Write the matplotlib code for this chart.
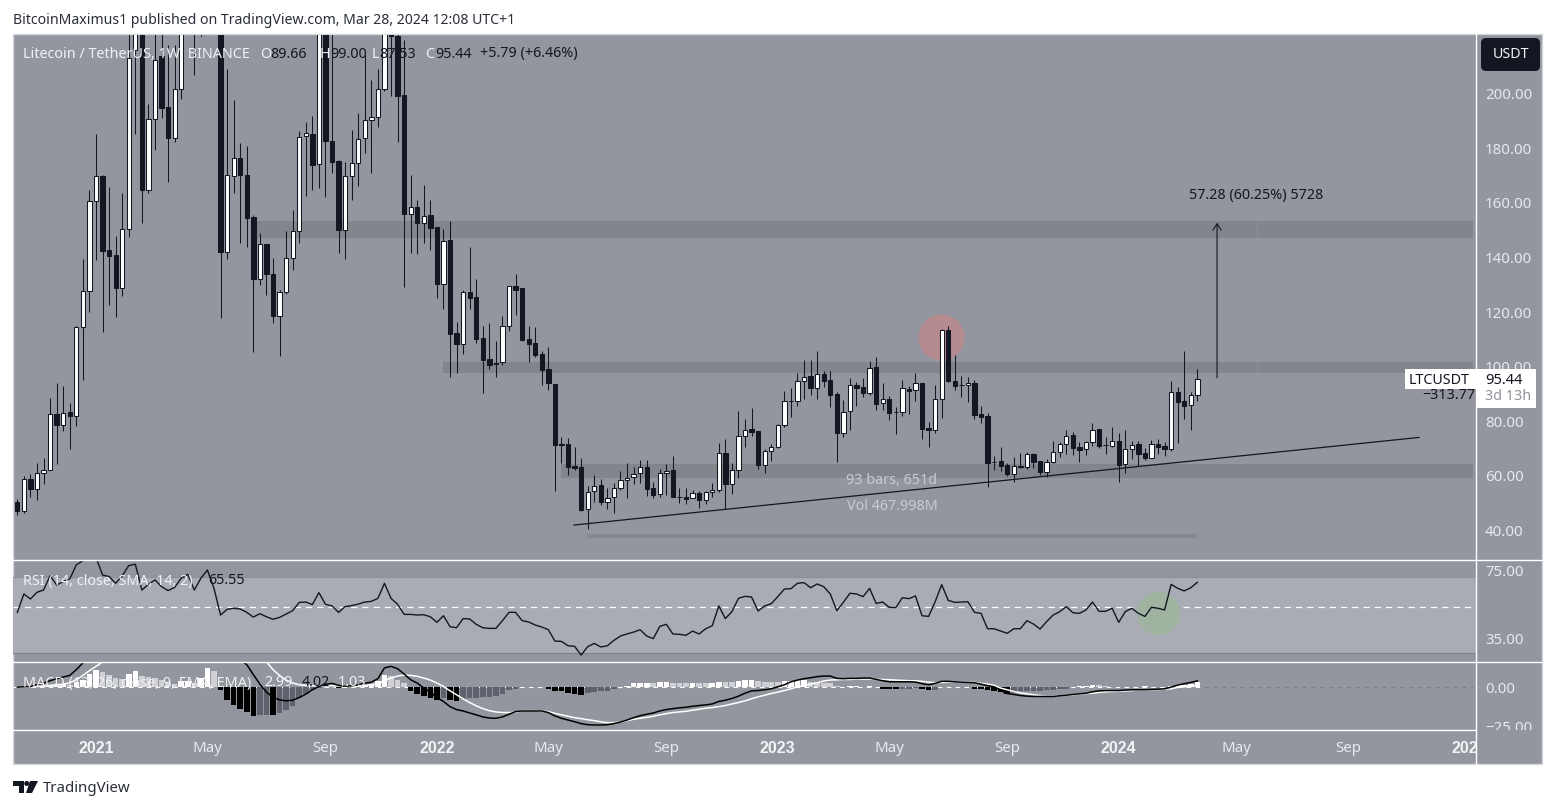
import pandas as pd
import numpy as np
import matplotlib
matplotlib.use('Agg')
import matplotlib.pyplot as plt
from matplotlib.patches import Rectangle, FancyBboxPatch, Polygon
from matplotlib.lines import Line2D
from matplotlib.transforms import Bbox, IdentityTransform

plt.rcParams['font.family'] = ['Noto Sans', 'DejaVu Sans']

# weekly LTCUSDT candles, prices above the pane top are guesses
opens = [50.4, 47.3, 58.8, 55.3, 60.9, 62, 82.6, 78.8, 83.3, 82.1, 114.4, 127.6, 160.8, 169.7, 142.7, 140.9, 128.9, 150.6, 216, 240,
         164.7, 190.6, 213.8, 195, 183.9, 201.9, 235, 265, 240, 250, 280, 300, 142, 170, 176.3, 170.4, 154.8, 132.3, 144.8, 134,
         118.7, 127.5, 140, 149.6, 184.5, 185.4, 174.1, 245, 182.8, 175.3, 150, 170, 174.5, 183.6, 190.2, 191.6, 201.9, 222, 221, 199.5,
         156, 158.6, 152.7, 155.4, 151.1, 130.4, 146.3, 112.2, 108.2, 127.5, 125.7, 110.4, 102.7, 101, 101.6, 114.8, 129.6, 128.8, 110.2, 108.7,
         104.6, 99, 93.5, 71.6, 71.6, 63.7, 63.3, 47.7, 54.3, 56.7, 50.6, 52.1, 55.7, 58.4, 59.5, 60.9, 63.3, 55.4, 53.2, 61,
         62, 52.4, 52.4, 51.8, 53.7, 51.3, 54, 55, 68.4, 57.1, 62.2, 74.7, 77.2, 76.3, 64.1, 69, 70.7, 78.5, 87.4, 87.3,
         94.6, 96.6, 92.3, 97.3, 95, 90, 75.8, 83.9, 93.3, 92.6, 90.2, 99.9, 86.6, 88.2, 83.3, 83.3, 92, 91.3, 94.1, 77.4,
         77, 88, 113.4, 94.9, 93.3, 93.2, 93.9, 82.5, 82, 65.2, 65.5, 64, 60.8, 63.5, 63.3, 68, 65.4, 61.6, 65, 68.7,
         71.6, 75, 70.6, 69.8, 72.3, 77.2, 71.2, 70.8, 72.8, 64.3, 69.8, 71.7, 68.4, 66.7, 71.7, 71, 70, 90.8, 87.3, 85.9,
         89.66]
highs = [51.4, 60, 60.7, 64.7, 66.6, 88.5, 93.9, 92.9, 86.7, 115, 139.4, 164.7, 185.4, 170.4, 165.7, 147.8, 163.8, 235, 250, 260,
         196.2, 225, 230, 218, 218, 250, 280, 290, 270, 300, 320, 320, 208.9, 197.7, 181.8, 181, 155.5, 148.8, 144.8, 139.7,
         128, 149.7, 157.4, 186.3, 189.5, 191.8, 260, 260, 225, 175.7, 174.8, 186.7, 192.8, 214.2, 205, 208.9, 250, 235, 225, 219.6,
         170.2, 161, 166.5, 161, 151.3, 150.3, 153.5, 116.3, 128, 143.7, 132.3, 114.9, 116.1, 109.4, 118.6, 129.5, 134, 128.9, 114.9, 114.6,
         105.9, 107.3, 93.6, 74.1, 73.8, 70.6, 66.4, 56.3, 60.3, 58.7, 55.4, 57.3, 61.9, 64.6, 63.4, 65.8, 65.8, 57.9, 62.4, 64.4,
         67.3, 55.7, 55.4, 54.8, 54.5, 54.5, 57.5, 71.9, 73.4, 64.6, 83.8, 80.8, 84.7, 76.4, 69.7, 71.7, 79, 91.1, 92.1, 97.6,
         102.4, 102.4, 105.7, 98.5, 98.4, 90.7, 87.8, 95.7, 94.3, 95.7, 102.2, 103.4, 93.9, 89.3, 85.1, 95.1, 92.9, 97.6, 94.2, 79.9,
         93.3, 113.8, 114.9, 104.3, 96.6, 96.3, 95.1, 85.6, 82.9, 67.3, 70.5, 64.6, 66.8, 68.5, 68.7, 68.5, 65.5, 66.2, 72.8, 72.4,
         76.8, 76, 72.3, 72.8, 79.3, 77.3, 74.1, 77.8, 75.6, 77, 72.7, 72.7, 70.2, 73.2, 73.5, 72.3, 94.7, 92.7, 105.8, 90.8,
         99.0]
lows = [45.7, 46.5, 52.2, 51.2, 57, 62, 64.5, 76.6, 70, 78.4, 95.3, 120.2, 139, 112.8, 122.7, 118.3, 126, 147.6, 185.4, 152.7,
        163.5, 179.3, 191.1, 167.7, 182.4, 198, 228, 206.8, 221, 230, 240, 118, 139.4, 163.5, 145.2, 144, 105.3, 129.9, 126.3, 116.1,
        104, 126.8, 135.4, 145.2, 162.6, 164.7, 165.5, 162.3, 170.8, 141.7, 139.4, 161, 166.3, 178.4, 170.8, 187.9, 201, 199.2, 182.2, 129.2,
        141.5, 141.2, 145.2, 142.7, 125, 121, 96.4, 97.6, 104.5, 121, 108.6, 90.2, 99, 96.4, 100.6, 113.2, 119, 109.4, 101.9, 103.7,
        93.3, 91.5, 54.5, 64.6, 60.3, 62, 47.3, 40.4, 50.6, 49.3, 47.9, 46.5, 54.8, 52, 56.9, 57.5, 52.8, 51.8, 52.1, 53,
        52.3, 50.2, 49.6, 51.8, 48.4, 49.7, 52.4, 54.2, 47.7, 53.4, 59.4, 70.7, 74.7, 62.5, 61.2, 65.6, 70.3, 78, 81.7, 85.7,
        88.2, 89.6, 88.2, 92.7, 85.4, 65.2, 74.1, 76.8, 85.6, 89, 89.7, 84.1, 84.1, 80.5, 75.3, 81.9, 82.7, 87.4, 73.5, 70.7,
        75.8, 81.3, 94.4, 91.5, 89, 87.2, 80.7, 79.5, 56.1, 62.2, 61.9, 60.1, 57.9, 63, 62.5, 62.8, 60.3, 59.7, 64.6, 66.8,
        68, 67.7, 65.2, 67.7, 71, 70.4, 68, 70.7, 57.9, 61.2, 66.2, 63.6, 65.8, 66.7, 68, 67.3, 69.3, 72.2, 80.9, 76.8,
        87.53]
closes = [47.3, 58.8, 55.3, 60.9, 62, 82.6, 78.8, 83.2, 82.1, 114.4, 127.6, 160.8, 169.7, 142.5, 140.5, 128.9, 150.6, 213, 240, 164.7,
          190.6, 212.3, 194.9, 183.9, 201.9, 235, 265, 240, 225, 280, 300, 142, 170.4, 176.3, 170.4, 154.6, 132.3, 144.8, 134, 118.7,
          127.5, 140, 149.6, 184.2, 185.7, 174, 250, 182.8, 175, 150, 170, 174.5, 183.3, 190.2, 191.6, 201.6, 240, 221, 199.2, 156,
          158.6, 152.7, 155.3, 150.9, 130.4, 146.1, 112.1, 108.4, 127.2, 125.3, 110.3, 102.6, 100.7, 101.5, 114.8, 129.5, 128.1, 109.8, 108.5, 104.3,
          98.8, 93.9, 71.3, 71.4, 63.4, 63, 47.5, 54.2, 56.4, 50.6, 52, 55.7, 58.4, 59.4, 60.8, 63.1, 55.3, 53, 60.9, 61.9,
          52.4, 52.3, 51.5, 53.6, 51.3, 54, 55, 68.3, 57.1, 62, 74.7, 77, 76.2, 64, 69, 70.7, 78.5, 87.3, 87.3, 94.6,
          96.3, 92.3, 97.2, 94.9, 89.7, 75.8, 83.5, 93.2, 92.3, 90.5, 99.6, 86.5, 88, 83.2, 83.3, 92.1, 91.2, 93.9, 77.3, 77,
          88, 113.4, 94.8, 92.8, 93.3, 94, 82.3, 81.7, 64.8, 65.2, 63.8, 60.7, 63.5, 63.4, 67.9, 65.1, 61.4, 65, 68.7, 71.6,
          74.8, 70.4, 69.6, 72.3, 77, 71, 71.2, 72.7, 64, 69.8, 71.5, 68.2, 66.6, 71.6, 70.6, 69.9, 90.6, 87.2, 85.7, 89.5,
          95.44]

rsi = [50.5, 61.4, 58.4, 62.4, 63.7, 72.2, 66.7, 68.7, 70.3, 78.6, 81.1, 84.1, 83, 72.6, 71.7, 67.7, 72.2, 78.2, 79, 63.7,
       67.1, 69.7, 65.7, 63.4, 65.3, 70.7, 73, 63.7, 70.7, 75.6, 64.7, 48.9, 52.3, 52.9, 52.5, 50.5, 47.7, 49.7, 47.9, 46.4,
       47.5, 49.5, 51.5, 56.4, 56.6, 55.1, 62.2, 55.3, 54.3, 50.5, 53.9, 54.5, 55.4, 56.6, 57, 58.8, 67.7, 58.8, 55.3, 49.3,
       49.3, 48.9, 49.1, 47.9, 44.6, 48.5, 42, 41.4, 46.8, 46.6, 43.4, 41.4, 41, 41, 45.6, 50.5, 50.5, 45.6, 44.8, 43,
       41.8, 40.2, 33.5, 33.3, 30.7, 30.4, 25.2, 30.2, 32.1, 30, 30.7, 33.9, 36.5, 37.7, 38.8, 40.2, 36.5, 34.9, 42.2, 43.4,
       37.7, 37.5, 36.9, 39.4, 37.7, 40.8, 42.6, 54.3, 46.8, 50.9, 58.8, 60, 59.6, 51.3, 54.3, 55.6, 59.8, 64.3, 64.5, 67.7,
       68.1, 65.1, 67.3, 65.7, 61.4, 51.5, 56.4, 61.8, 61.4, 59.8, 64.7, 55.8, 56.6, 53.5, 53.3, 59.2, 58.6, 60.2, 48.5, 48.1,
       56.8, 66.9, 57.6, 56.4, 56.6, 56.8, 50.5, 49.9, 40.8, 40.8, 39.4, 38.1, 40.8, 40.8, 45.6, 43.6, 40.6, 45, 48.9, 50.9,
       53.9, 50.3, 49.9, 51.9, 56.6, 51.1, 51.1, 52.9, 44.6, 50.9, 52.9, 49.9, 48.1, 53.5, 52.9, 51.9, 67.1, 64.7, 63.2, 65.1,
       68.3]

macd = [0, 0.2, 0.4, 1.5, 2.6, 4.1, 5.4, 6.5, 7.5, 11.2, 15.5, 19.8, 23, 26.2, 28.4, 29.5, 30.5, 32.7, 34.8, 33.8,
        31.6, 32.7, 33.8, 32.7, 33.8, 34.8, 35.9, 35.5, 35.9, 37, 34.8, 27.3, 23, 19.8, 17.6, 14.4, 8, 1.9, -3.2, -6.5,
        -8.2, -8.8, -8.4, -6.7, -4.5, -1.7, 0.4, 1.9, 2.4, 1.1, 0.6, 0.9, 1.5, 2.4, 3.2, 5.4, 12.3, 13.3, 11.8, 8.4,
        4.7, 2.6, -0.6, -3.2, -6.7, -9.2, -12.5, -14.4, -15.3, -16.6, -17.8, -19.1, -19.8, -20, -19.1, -17.4, -15.7, -15.3, -15.3, -15.3,
        -15.3, -16.3, -18.5, -20, -21.1, -22.2, -23.4, -24.1, -24.3, -24.3, -24.1, -23.4, -22.4, -21.1, -19.6, -18.3, -17.4, -16.6, -15.3, -14.4,
        -13.8, -13.3, -12.9, -12.3, -11.8, -11.4, -10.8, -9.2, -8.4, -7.3, -5.8, -3.9, -2.4, -2.2, -1.7, -1.1, 0.2, 1.5, 3.4, 4.5,
        5.4, 6, 6.7, 7.1, 7.1, 5.6, 5.4, 5.6, 5.6, 5.8, 5.8, 4.9, 4.1, 3.4, 3.4, 3.4, 3.4, 3.2, 2.2, 1.5,
        2.4, 3.7, 3.7, 3.4, 3.2, 3, 2.8, 1.9, 0.9, 0.2, -2.2, -4.1, -4.7, -5.4, -5.8, -6, -6, -6, -6, -5.6,
        -5.2, -4.7, -4.3, -3.9, -3, -2.4, -2.2, -2.2, -2.2, -1.9, -1.7, -1.7, -1.7, -1.5, -1.3, -1.1, 0, 1.3, 2.2, 3,
        4.02]
signal = [0, 0, 0.2, 0.4, 0.6, 1.1, 1.5, 1.9, 2.8, 4.7, 7.5, 10.5, 13.3, 16.1, 18.3, 20.9, 22.6, 24.3, 26.2, 27.7,
          29, 30.3, 31.6, 32, 32.5, 32.9, 33.3, 33.8, 34.2, 34.6, 34.2, 32.7, 30.5, 28.4, 26.2, 24.1, 21.9, 18.7, 16.1, 11.2,
          7.5, 4.5, 2.6, 1.5, 1.1, 0.9, 0.9, 0.9, 0.9, 0.9, 0.9, 0.9, 0.9, 1.1, 1.5, 2.2, 4.1, 5.8, 7.1, 7.7,
          7.5, 6.9, 5.8, 4.5, 2.6, 0.4, -2.4, -4.9, -7.5, -9.9, -12, -13.8, -15.1, -15.9, -16.3, -16.3, -16.1, -15.1, -15.1, -15.1,
          -15.3, -15.7, -16.8, -17.8, -18.7, -19.6, -20.2, -20.9, -21.5, -22.2, -22.8, -22.8, -22.4, -21.5, -20.6, -20, -19.4, -18.7, -17.8, -17,
          -16.3, -15.9, -15.5, -14.8, -14.2, -13.5, -13.1, -12.5, -11.8, -10.8, -9.9, -8.8, -7.5, -6.2, -5.2, -4.1, -3.2, -2.2, -1.1, 0.2,
          1.1, 1.9, 2.8, 3.9, 4.5, 4.7, 4.9, 4.9, 5.2, 5.2, 5.2, 4.9, 4.9, 4.7, 4.5, 4.3, 4.1, 4.1, 3.7, 3.2,
          2.8, 3, 3.2, 3.4, 3.4, 3.2, 3, 2.4, 1.9, 1.1, -0.6, -1.7, -2.8, -3.7, -4.3, -4.9, -5.4, -5.8, -5.8, -5.6,
          -5.2, -4.9, -4.5, -4.1, -3.9, -3.4, -3, -2.8, -2.6, -2.4, -2.2, -1.9, -1.9, -1.7, -1.5, -1.3, -1.1, -0.2, 0.2, 0.6,
          1.03]
hist = [0, 0.1, 0.1, 0.2, 0.4, 1.5, 1.9, 1.9, 1.5, 3, 4.7, 8.4, 11.2, 9.5, 7.5, 5.8, 5.4, 8.4, 10.5, 6.9,
        6.2, 6, 4.7, 2.6, 1.9, 4.1, 4.2, 2.6, 5.8, 12.3, 10.5, -1.7, -8.2, -11.4, -14, -15.7, -18.7, -17.8, -17.6, -18,
        -16.8, -14.7, -11.8, -7.1, -4.5, -1.7, -0.5, 0.2, 0.2, -0.6, -0.2, 0.3, 0.5, 0.8, 1.2, 3.7, 7.9, 6.9, 4.7, 2.6,
        -2.8, -4.5, -6, -6.7, -8.2, -7.1, -8.4, -9.2, -7.5, -7.1, -7, -6.6, -6.4, -5.8, -4.5, -1.7, -0.9, -0.2, -0.1, 0,
        -0.2, -1.1, -2.4, -2.8, -3.7, -4.1, -4.9, -3.7, -3.2, -2.8, -2.4, -1.3, 0.1, 0.9, 2.4, 2.8, 2.9, 2.6, 3, 3.4,
        2.8, 2.6, 2.5, 2.8, 2.7, 2.6, 2.8, 3.4, 3.2, 3.1, 4.1, 4.7, 4.8, 3.9, 3.4, 3.2, 3.1, 3.7, 4.1, 4.3,
        4.7, 3.4, 3.2, 2.8, 2.4, 0.6, 0.1, 0.4, 0.6, 0.1, 0.6, 0, -1.1, -1.3, -1.4, -1.1, -0.9, -0.8, -1.5, -1.9,
        -1.8, 0, 0.2, 0.1, 0.05, 0.2, -0.9, -1.1, -1.9, -2.8, -3.4, -4.1, -3.7, -2.8, -2.6, -2.4, -2.2, -1.9, -1.7, -1.3,
        -0.9, 0.2, 0.4, 0.6, 1.3, 1.1, 0.6, 0.2, 0.1, 0.05, 0.03, 0.2, 0.4, 0.2, 0.1, 0.2, 0.9, 1.3, 1.5, 1.9,
        2.99]

# bar numbers of the date labels, counted from the first weekly bar
date_ticks = [12, 29, 47, 64, 81, 99, 116, 133, 151, 168, 186, 203, 221.5]
date_labels = ['2021', 'May', 'Sep', '2022', 'May', 'Sep', '2023', 'May', 'Sep', '2024', 'May', 'Sep', '2025']
price_ticks = [40, 60, 80, 100, 120, 140, 160, 180, 200]
rsi_ticks = [75, 35]
macd_ticks = [0, -25]

# (first bar, last bar, top price, bottom price)
zones = [(36.3, 222, 153.3, 147.2), (64.9, 222, 101.8, 97.6), (82.9, 222, 64.4, 59.3)]
support_low = (86.9, 180, 38.7, 37.4)
trend_x = [84.9, 213.8]
trend_y = [42, 74.1]

W, H = 1556, 809
BG = '#93969e'
DARK = '#131722'
LIGHT = '#e8e9ec'
FS = 10.3

fig = plt.figure(figsize=(W / 100, H / 100), dpi=100, facecolor='white')


def pane(top, bottom):
    ax = fig.add_axes([13 / W, 1 - bottom / H, (1476 - 13) / W, (bottom - top) / H])
    ax.set_facecolor('none')
    for s in ax.spines.values():
        s.set_visible(False)
    ax.set_xlim(-0.66, 222.5)
    ax.yaxis.tick_right()
    ax.tick_params(axis='y', length=0, pad=6.5, labelcolor=LIGHT, labelsize=10.8)
    ax.tick_params(axis='x', length=0, labelbottom=False)
    return ax


def put(x, y, s, color=LIGHT, size=FS, ha='left', **kw):
    return fig.text(x / W, 1 - y / H, s, color=color, fontsize=size, ha=ha, va='center', **kw)


def pxline(x0, y0, x1, y1, color='white', lw=1.0):
    fig.add_artist(Line2D([x0 / W, x1 / W], [1 - y0 / H, 1 - y1 / H], color=color, lw=lw, zorder=1))


fig.add_artist(Rectangle((13, H - 764), 1529, 730, transform=IdentityTransform(),
                         fc=BG, ec='#d6d8de', lw=1, zorder=-5))

ax = pane(35, 560)
ax_rsi = pane(560, 662)
ax_macd = pane(662, 730)
ax.set_ylim(29.2, 221.5)
ax_rsi.set_ylim(21.1, 81.5)
ax_macd.set_ylim(-27.5, 16.1)

# price pane
x = np.arange(len(opens))
df = pd.DataFrame({'open': opens, 'high': highs, 'low': lows, 'close': closes}, index=x)
up = df['close'] >= df['open']

for z in zones:
    ax.add_patch(Rectangle((z[0], z[3]), z[1] - z[0], z[2] - z[3], fc='#82858c', ec='none', zorder=1))
ax.add_patch(Rectangle((support_low[0], support_low[3]), support_low[1] - support_low[0],
                       support_low[2] - support_low[3], fc='#868990', ec='none', zorder=1))
ax.plot([189.1, 189.1], [98, 153], color='#8a9790', lw=0.6, zorder=1)
ax.scatter([140.9], [110.9], s=1097, color='#b58b90', linewidths=0, zorder=1.5)

ax.vlines(x, df['low'], df['high'], color=DARK, lw=0.75, zorder=2)
ax.bar(x[up], (df['close'] - df['open'])[up], bottom=df['open'][up], width=0.66,
       color='white', edgecolor=DARK, linewidth=0.75, zorder=3)
ax.bar(x[~up], (df['close'] - df['open'])[~up], bottom=df['open'][~up], width=0.66,
       color=DARK, edgecolor=DARK, linewidth=0.75, zorder=3)

ax.plot(trend_x, trend_y, color=DARK, lw=0.9, zorder=4)
ax.annotate('', xy=(183, 152.7), xytext=(183, 95.9), zorder=4,
            arrowprops=dict(arrowstyle='->,head_length=0.45,head_width=0.3', color=DARK, lw=0.8,
                            shrinkA=0, shrinkB=0))
ax.set_yticks(price_ticks, [f'{v:.2f}' for v in price_ticks])

# RSI pane
ax_rsi.axhspan(26.6, 71.4, color='#a9acb5', lw=0, zorder=1)
ax_rsi.axhline(71.4, color='#8c8f97', lw=0.8, zorder=1)
ax_rsi.axhline(26.6, color='#80838b', lw=0.8, zorder=1)
ax_rsi.plot([-0.66, 222], [53.5, 53.5], color='white', lw=0.9, ls=(0, (5, 4)), zorder=2)
ax_rsi.scatter([174], [50.4], s=976, color='#9fb3a0', linewidths=0, zorder=2.5)
ax_rsi.plot(x, rsi, color=DARK, lw=1.0, zorder=3)
ax_rsi.set_yticks(rsi_ticks, [f'{v:.2f}' for v in rsi_ticks])

# MACD pane, bar colours follow the usual rising and falling rule
bar_colors = []
for i, h in enumerate(hist):
    prev = hist[i - 1] if i else 0
    if h >= 0:
        bar_colors.append('white' if h >= prev else '#cfd1d7')
    else:
        bar_colors.append('black' if h <= prev else '#5f626c')
ax_macd.plot([-0.66, 181], [0, 0], color='white', lw=0.8, ls=(0, (4, 4)), zorder=1)
ax_macd.plot([181, 222], [0, 0], color='#7d8088', lw=0.8, ls=(0, (4, 4)), zorder=1)
ax_macd.bar(x, hist, width=0.86, color=bar_colors, linewidth=0, zorder=2)
ax_macd.plot(x, signal, color='white', lw=1.1, zorder=3)
ax_macd.plot(x, macd, color='black', lw=1.1, zorder=4)
ax_macd.set_yticks(macd_ticks, ['0.00', '\u221225.00'])
clip = Bbox([[1476, H - 730], [1542, H - 662]])
for lab in ax_macd.get_yticklabels():
    lab.set_clip_on(True)
    lab.set_clip_box(clip)

ax_macd.tick_params(axis='x', labelbottom=True, labelcolor=LIGHT, labelsize=10.8, pad=8)
ax_macd.set_xticks(date_ticks, date_labels)
clip_x = Bbox([[13, H - 764], [1476, H - 730]])
for lab in ax_macd.get_xticklabels():
    if lab.get_text()[0] == '2':
        lab.set_fontfamily('Liberation Sans')
        lab.set_fontweight('bold')
        lab.set_fontsize(11.5)
        lab.set_color('#f2f3f5')
    lab.set_clip_on(True)
    lab.set_clip_box(clip_x)

# pane separators and price axis line
pxline(13, 560.3, 1542, 560.3)
pxline(13, 662.3, 1542, 662.3)
pxline(13, 730, 1476, 730)
pxline(1476.3, 34, 1476.3, 764)

# legends
put(13, 20, 'BitcoinMaximus1 published on TradingView.com, Mar 28, 2024 12:08 UTC+1', color='#2a2e39', size=10.15)
put(23, 54, 'Litecoin / TetherUS, 1W, BINANCE', color='#f0f1f3', size=10.35)
put(260, 54, 'O', color='#f0f1f3')
put(270, 54, '89.66', color=DARK)
put(320, 54, 'H', color='#f0f1f3')
put(330, 54, '99.00', color=DARK)
put(372, 54, 'L', color='#f0f1f3')
put(379, 54, '87.53', color=DARK)
put(425, 54, 'C', color='#f0f1f3')
put(435, 54, '95.44', color=DARK)
put(480, 54, '+5.79 (+6.46%)', color=DARK)
put(23, 581, 'RSI (14, close, SMA, 14, 2)', color='#f0f1f3')
put(208, 581, '65.55', color=DARK)
put(23, 683, 'MACD (12, 26, close, 9, EMA, EMA)', color='#f0f1f3', size=10.35)
put(264, 683, '2.99', color='#f0f1f3')
put(302, 683, '4.02', color=DARK)
put(338, 683, '1.03', color='#f0f1f3')

# drawing labels
put(1189, 196, '57.28 (60.25%) 5728', color=DARK)
put(892, 481, '93 bars, 651d', color='#c9cbd1', ha='center')
put(892, 506, 'Vol 467.998M', color='#c9cbd1', ha='center')

# last price tag
fig.add_artist(Rectangle((1404.5, H - 389), 71.5, 20, transform=IdentityTransform(), fc='white', ec='none', zorder=5))
fig.add_artist(Rectangle((1476, H - 407.7), 60, 38.7, transform=IdentityTransform(), fc='white', ec='none', zorder=5))
put(1409, 380, 'LTCUSDT', color=DARK, zorder=6)
put(1485, 380, '95.44', color=DARK, zorder=6, size=10.6)
put(1485, 397, '3d 13h', color='#8f929a', zorder=6, size=10.3)
put(1475, 396, '\u2212313.77', color=DARK, ha='right', zorder=6)

# currency button
fig.add_artist(FancyBboxPatch((1481, H - 71), 59, 33, boxstyle='round,pad=0,rounding_size=5',
                              transform=IdentityTransform(), fc=DARK, ec='none', zorder=5))
put(1510.5, 54.5, 'USDT', color='#f0f1f3', ha='center', zorder=6)

# footer logo
for pts in ([(13, 781), (24, 781), (24, 793), (19, 793), (19, 786), (13, 786)],
            [(30, 781), (38, 781), (32, 793), (26, 793)]):
    fig.add_artist(Polygon([(px, H - py) for px, py in pts], transform=IdentityTransform(), fc=DARK, ec='none'))
fig.add_artist(plt.Circle((26.7, H - 783.5), 2.5, transform=IdentityTransform(), fc=DARK, ec='none'))
put(43, 788, 'TradingView', color='#2a2e39', size=10.8)

fig.savefig('out.png', dpi=100)
